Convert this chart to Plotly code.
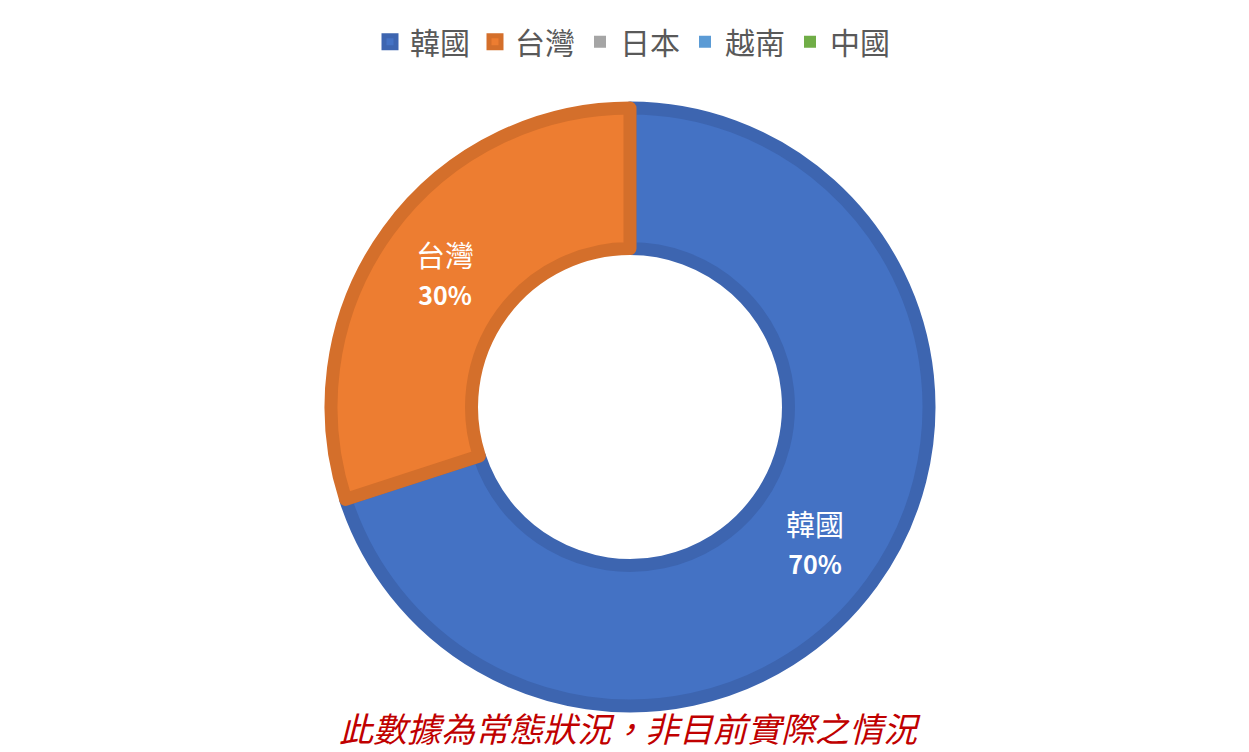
import plotly.graph_objects as go

# 各國比例（常態狀況）
countries = ['韓國', '台灣', '日本', '越南', '中國']
shares = [70, 30, 0, 0, 0]

fill_colors = ['#4472C4', '#ED7D31', '#A5A5A5', '#5B9BD5', '#70AD47']
edge_colors = ['#3D65B0', '#D46F2B', '#939393', '#5189BE', '#649A3F']

note = '此數據為常態狀況，非目前實際之情況'

# 零值的扇區不畫邊框
edge_widths = [13 if v > 0 else 0 for v in shares]

fig = go.Figure(go.Pie(
    labels=countries,
    values=shares,
    hole=0.53,
    sort=False,
    direction='clockwise',
    rotation=0,
    marker=dict(colors=fill_colors, line=dict(color=edge_colors, width=edge_widths)),
    texttemplate='%{label}<br><span style="font-size:25px"><b>%{percent:.0%}</b></span>',
    textposition='inside',
    insidetextorientation='horizontal',
    textfont=dict(family='Noto Sans CJK TC', size=29, color='white'),
    hoverinfo='label+percent',
))

fig.add_annotation(
    text='<i>' + note + '</i>',
    x=0.5, y=0, xref='paper', yref='paper',
    xanchor='center', yanchor='middle', yshift=-21,
    showarrow=False,
    font=dict(family='Noto Sans CJK TC', size=34, color='#C00000'),
)

fig.update_layout(
    width=1249, height=752,
    margin=dict(l=12, r=17, t=100, b=54),
    paper_bgcolor='white',
    plot_bgcolor='white',
    showlegend=True,
    legend=dict(
        orientation='h',
        x=0.5, xanchor='center', xref='container',
        y=0.955, yanchor='middle', yref='container',
        font=dict(family='Noto Sans CJK TC', size=30, color='#595959'),
        itemwidth=30,
        traceorder='normal',
    ),
)

fig.write_html('out.html')
